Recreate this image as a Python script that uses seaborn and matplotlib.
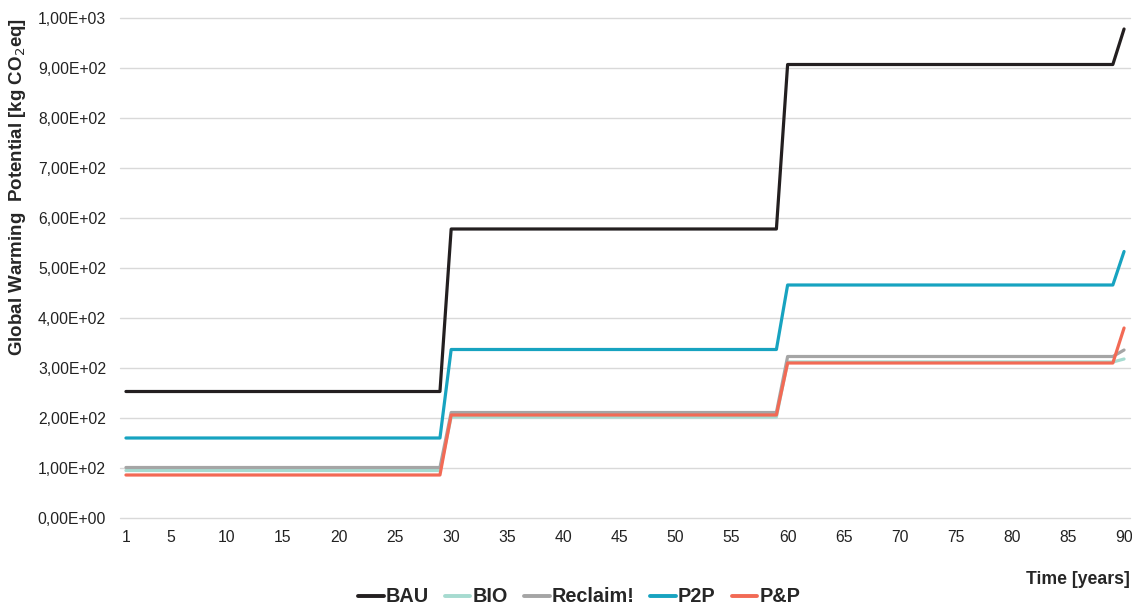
import numpy as np
import pandas as pd
import matplotlib
matplotlib.use("Agg")
import matplotlib.pyplot as plt
import seaborn as sns
from matplotlib.ticker import FuncFormatter

# years 1..90, values (steps at year 30, 60 and 90)
years = list(range(1, 91))
bau = [253] * 29 + [578] * 30 + [907] * 30 + [978]
bio = [95] * 29 + [202] * 30 + [312] * 30 + [318]
reclaim = [101] * 29 + [211] * 30 + [323] * 30 + [336]
p2p = [160] * 29 + [337] * 30 + [466] * 30 + [533]
pnp = [86] * 29 + [206] * 30 + [310] * 30 + [380]

scenarios = ['BAU', 'BIO', 'Reclaim!', 'P2P', 'P&P']
colors = ['#231f20', '#a6dbd0', '#a5a5a5', '#17a3c0', '#f26a55']
xticks = [1] + list(range(5, 91, 5))

df = pd.DataFrame({'year': years * 5,
                   'value': bau + bio + reclaim + p2p + pnp,
                   'scenario': np.repeat(scenarios, len(years))})

sns.set_style("whitegrid")
plt.rcParams['font.family'] = ['Liberation Sans', 'DejaVu Sans']

fig = plt.figure(figsize=(11.32, 6.06), dpi=100)
ax = fig.add_axes([120 / 1132, 1 - 518 / 606, 1010 / 1132, 500 / 606])

sns.lineplot(data=df, x='year', y='value', hue='scenario', hue_order=scenarios,
             palette=colors, linewidth=2.3, ax=ax, legend=False)

ax.set_xlim(0.47, 90.53)
ax.set_ylim(0, 1000)
ax.set_xticks(xticks)
ax.set_yticks(range(0, 1001, 100))
ax.yaxis.set_major_formatter(FuncFormatter(lambda v, p: f"{v:.2E}".replace('.', ',')))
ax.grid(axis='x', visible=False)
ax.grid(axis='y', color='#d9d9d9', linewidth=1)
for gl in ax.get_ygridlines():
    gl.set_clip_on(False)
for s in ax.spines.values():
    s.set_visible(False)
ax.tick_params(axis='both', length=0, labelsize=11.3, colors='#222222')
ax.tick_params(axis='y', pad=10)
ax.tick_params(axis='x', pad=9)

ax.set_xlabel('')
ax.set_ylabel('')
fig.text(18 / 1132, 1 - 187 / 606, 'Global Warming  Potential [kg CO$_2$eq]', rotation=90,
         ha='center', va='center', fontsize=13.5, fontweight='bold')
fig.text(1130 / 1132, 1 - 580 / 606, 'Time [years]', ha='right', va='center',
         fontsize=12.7, fontweight='bold')

handles = [plt.Line2D([0], [0], color=c, linewidth=2.8) for c in colors]
leg = fig.legend(handles, scenarios, loc='center', bbox_to_anchor=(579 / 1132, 1 - 597 / 606),
                 ncol=5, frameon=False, handlelength=1.3, handletextpad=0.1,
                 columnspacing=0.8, prop={'weight': 'bold', 'size': 14.3})

fig.savefig('out.png', dpi=100)
